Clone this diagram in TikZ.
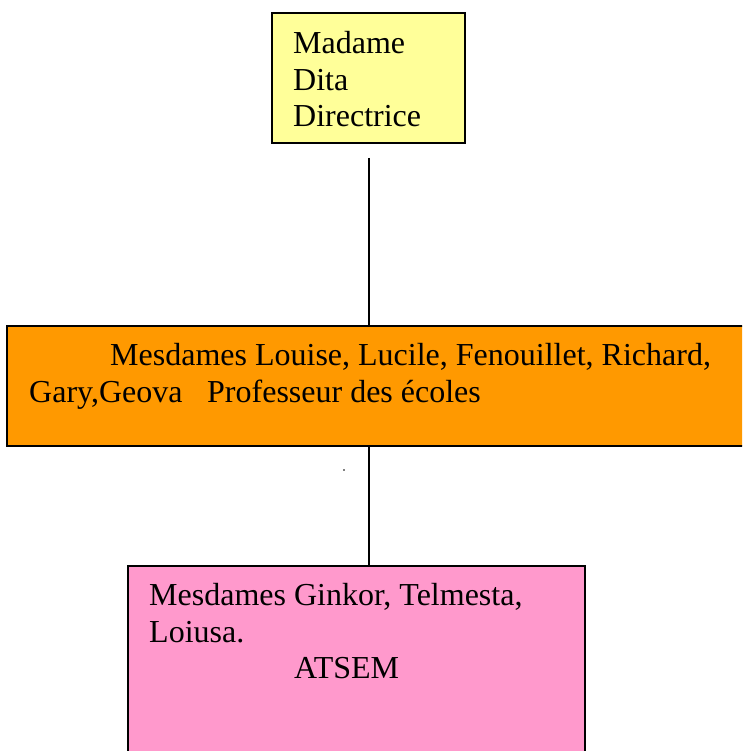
\documentclass[tikz,border=0pt]{standalone}
\usepackage{fontspec}
\setmainfont{Liberation Serif}
\newfontfamily\tnrfont{Liberation Serif}
\definecolor{boxyellow}{HTML}{FFFF99}
\definecolor{boxorange}{HTML}{FF9900}
\definecolor{boxpink}{HTML}{FF99CC}
\begin{document}
\begin{tikzpicture}[x=1pt,y=-1pt,
  box/.style={draw=black,line width=1.6pt,anchor=north west,inner sep=0pt,outer sep=0pt,rectangle},
  txt/.style={anchor=base west,inner sep=0pt,font=\tnrfont\fontsize{32}{37}\selectfont},
  conn/.style={draw=black,line width=1.4pt}]
\useasboundingbox (0,0) rectangle (742,751);
\begin{scope}
\clip (0,0) rectangle (742,751);
\node[box,fill=boxyellow,minimum width=193pt,minimum height=130pt] (top) at (272,13) {};
\node[box,fill=boxorange,minimum width=750pt,minimum height=120pt] (mid) at (7,326) {};
\node[box,fill=boxpink,minimum width=457pt,minimum height=200pt] (bot) at (128,566) {};
\end{scope}
\node[txt] (t1) at (293,54) {Madame};
\node[txt] (t2) at (293,90.5) {Dita};
\node[txt] (t3) at (293,126.5) {Directrice};
\node[txt] (m1) at (110,365) {Mesdames Louise, Lucile, Fenouillet, Richard,};
\node[txt] (m2) at (29,402) {Gary,Geova};
\node[txt] (m3) at (207,402) {Professeur des écoles};
\node[txt] (b1) at (149,605) {Mesdames Ginkor, Telmesta,};
\node[txt] (b2) at (149,642) {Loiusa.};
\node[txt] (b3) at (294,678) {ATSEM};
\coordinate (c1) at (369,158);
\draw[conn] (c1) -- (c1 |- mid.north);
\draw[conn] (c1 |- mid.south) -- (c1 |- bot.north);
\fill[black] (344,470) circle (0.8pt);
\end{tikzpicture}
\end{document}
